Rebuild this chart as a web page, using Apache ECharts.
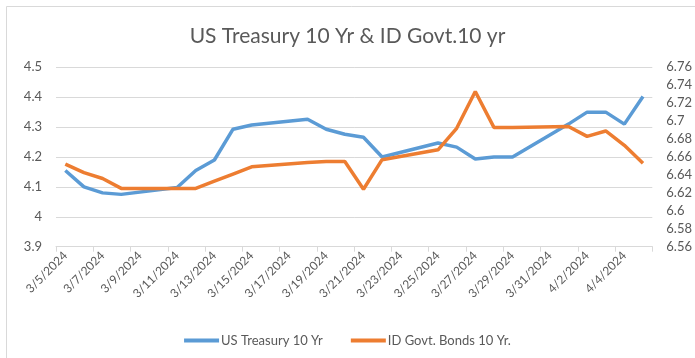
<!DOCTYPE html>
<html><head><meta charset="utf-8">
<script src="https://cdn.jsdelivr.net/npm/echarts@6/dist/echarts.min.js"></script>
<style>html,body{margin:0;padding:0;background:#fff}#c{width:695px;height:358px}</style>
</head><body><div id="c"></div>
<script>
const categories = ['3/5/2024','3/6/2024','3/7/2024','3/8/2024','3/9/2024','3/10/2024','3/11/2024','3/12/2024','3/13/2024','3/14/2024','3/15/2024','3/16/2024','3/17/2024','3/18/2024','3/19/2024','3/20/2024','3/21/2024','3/22/2024','3/23/2024','3/24/2024','3/25/2024','3/26/2024','3/27/2024','3/28/2024','3/29/2024','3/30/2024','3/31/2024','4/1/2024','4/2/2024','4/3/2024','4/4/2024','4/5/2024'];
const usTreasury = [4.155,4.10,4.08,4.075,null,null,4.098,4.155,4.19,4.293,4.307,null,null,4.326,4.293,4.276,4.266,4.20,null,null,4.247,4.233,4.193,4.20,4.20,null,null,4.31,4.35,4.35,4.31,4.402];
const idGovt = [6.652,6.6425,6.636,6.625,null,null,6.625,6.625,6.633,6.641,6.649,null,null,6.654,6.655,6.655,6.624,6.657,null,null,6.668,6.692,6.733,6.693,6.693,null,null,6.694,6.683,6.689,6.673,6.653];
const leftTicks = [3.9, 4.5, 0.1];
const rightTicks = [6.56, 6.76, 0.02];
const seriesNames = ['US Treasury 10 Yr', 'ID Govt. Bonds 10 Yr.'];

const FONT = 'Lato';
const TXT = '#595959';
const chart = echarts.init(document.getElementById('c'), null, {renderer:'canvas'});
chart.setOption({
  animation:false,
  backgroundColor:'#fff',
  graphic:[{type:'rect', shape:{x:6.5,y:6.5,width:700,height:400}, style:{fill:'none',stroke:'#d9d9d9',lineWidth:1}, silent:true}],
  title:{text:'US Treasury 10 Yr & ID Govt.10 yr', left:'center', top:21,
    textStyle:{fontFamily:FONT, fontSize:21, fontWeight:'normal', color:TXT}},
  legend:{bottom:6, left:'center', itemWidth:35, itemHeight:4, itemGap:28, icon:'rect',
    textStyle:{fontFamily:FONT, fontSize:13, color:TXT, padding:[0,0,0,-3]},
    data:seriesNames},
  grid:{left:56, right:42.3, top:67.3, bottom:111.3, containLabel:false},
  xAxis:{type:'category', data:categories, boundaryGap:true,
    axisLine:{lineStyle:{color:'#d9d9d9'}},
    axisTick:{show:true, interval:1, length:5, lineStyle:{color:'#d9d9d9'}},
    axisLabel:{interval:1, rotate:45, margin:7, fontFamily:FONT, fontSize:12, color:TXT}},
  yAxis:[
    {type:'value', min:leftTicks[0], max:leftTicks[1], interval:leftTicks[2],
      axisLine:{show:false}, axisTick:{show:false},
      splitLine:{lineStyle:{color:'#d9d9d9'}},
      axisLabel:{margin:14, fontFamily:FONT, fontSize:13, color:TXT, formatter:v=>String(parseFloat(v.toFixed(2)))}},
    {type:'value', min:rightTicks[0], max:rightTicks[1], interval:rightTicks[2],
      axisLine:{show:false}, axisTick:{show:false}, splitLine:{show:false},
      axisLabel:{margin:14, fontFamily:FONT, fontSize:13, color:TXT, formatter:v=>String(parseFloat(v.toFixed(2)))}}
  ],
  series:[
    {name:seriesNames[0], type:'line', yAxisIndex:0, data:usTreasury, connectNulls:true, showSymbol:false,
      lineStyle:{width:3.5, color:'#5B9BD5'}, itemStyle:{color:'#5B9BD5'}},
    {name:seriesNames[1], type:'line', yAxisIndex:1, data:idGovt, connectNulls:true, showSymbol:false,
      lineStyle:{width:3.5, color:'#ED7D31'}, itemStyle:{color:'#ED7D31'}}
  ]
});
</script></body></html>
